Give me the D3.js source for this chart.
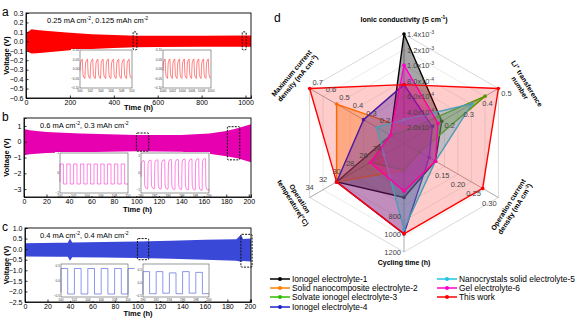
<!DOCTYPE html>
<html>
<head>
<meta charset="utf-8">
<script src="https://d3js.org/d3.v7.min.js"></script>
<style>
  body { margin: 0; background: #fff; }
  svg { font-family: "Liberation Sans", Arial, sans-serif; }
  .tick text { font-size: 7px; fill: #000; }
  .tick line, .domain { stroke: #000; stroke-width: 0.8; }
</style>
</head>
<body>
<svg width="586" height="329"></svg>
<script>
var svg = d3.select("svg");

// ---------- voltage profiles: envelope of the cycling band [time, top, bottom] ----------
var bandA = [[0, 0.07, -0.07], [8, 0.1, -0.11], [25, 0.127, -0.13], [50, 0.12, -0.125], [100, 0.11, -0.115],
  [200, 0.09, -0.095], [300, 0.075, -0.08], [400, 0.066, -0.07], [500, 0.06, -0.062], [600, 0.058, -0.06],
  [800, 0.058, -0.057], [1000, 0.062, -0.057], [1025, 0.062, -0.057]];
var bandB = [[0, 0.8, -0.85], [5, 0.72, -0.8], [20, 0.62, -0.72], [50, 0.52, -0.66], [100, 0.42, -0.6],
  [140, 0.42, -0.64], [165, 0.52, -0.76], [180, 0.68, -0.92], [190, 0.85, -1.05], [202, 1.1, -1.3]];
var bandC = [[0, 0.28, -0.35], [30, 0.3, -0.36], [38, 0.3, -0.36], [40, 0.5, -0.55], [42, 0.32, -0.38],
  [70, 0.34, -0.4], [100, 0.36, -0.42], [130, 0.4, -0.45], [160, 0.44, -0.5], [188, 0.47, -0.55],
  [192, 0.68, -0.6], [194, 0.48, -0.56], [201, 0.5, -0.58]];

// dashed zoom windows [t0, t1, vTop, vBottom]
var boxesA = [[488, 505, 0.1, -0.09], [985, 1003, 0.1, -0.09]];
var boxesB = [[100, 111, 0.55, -0.6], [181, 192, 0.95, -1.15]];
var boxesC = [[100, 110, 0.5, -0.5], [192, 202, 0.7, -0.85]];

// inset traces: voltage level of each half cycle
var insA1 = [0.052, -0.05, 0.052, -0.05, 0.053, -0.05, 0.052, -0.05, 0.052, -0.05, 0.053, -0.05, 0.052, -0.05, 0.052, -0.05, 0.052, -0.05, 0.052, -0.05];
var insA2 = [0.053, -0.05, 0.053, -0.05, 0.053, -0.05, 0.053, -0.05, 0.053, -0.05, 0.053, -0.05, 0.053, -0.05, 0.053, -0.05, 0.053, -0.05, 0.053, -0.05];
var insB1 = [0.45, -0.55, 0.45, -0.55, 0.45, -0.55, 0.45, -0.55, 0.45, -0.55, 0.45, -0.55, 0.45, -0.55, 0.45, -0.55, 0.45, -0.55, 0.45, -0.55];
var insB2 = [0.75, -0.95, 0.78, -0.95, 0.8, -0.97, 0.8, -0.98, 0.82, -1.0, 0.82, -1.0, 0.85, -1.02, 0.85, -1.03, 0.87, -1.05, 0.88, -1.05];
var insC1 = [0.4, -0.45, 0.4, -0.45, 0.4, -0.45, 0.4, -0.45, 0.4, -0.45, 0.4];
var insC2 = [0.45, -0.42, 0.45, -0.4, 0.4, -0.42, 0.45, -0.4, 0.42, -0.42];

// ---------- radar comparison ----------
var radarAxes = ["Ionic conductivity", "Li+ transference number", "Operation current density",
  "Cycling time", "Operation temperature", "Maximum current density"];
var radarDomains = [[0, 1.4e-3], [0, 0.5], [0, 0.3], [0, 1200], [20, 34], [0, 0.7]];
var seriesNames = ["Ionogel electrolyte-1", "Solid nanocomposite electrolyte-2", "Solvate ionogel electrolyte-3",
  "Ionogel electrolyte-4", "Nanocrystals solid electrolyte-5", "Gel electrolyte-6", "This work"];
var seriesColors = ["#000000", "#ff8000", "#33bb00", "#2020cc", "#22c4e0", "#ff00cc", "#ff0000"];
var seriesValues = [
  [1.4e-3, 0.2, 0.1, 600, 30, 0.1],
  [2.0e-4, 0.15, 0.05, 300, 30, 0.5],
  [1.5e-4, 0.43, 0.05, 300, 25, 0.1],
  [7.5e-4, 0.15, 0.08, 1000, 30, 0.3],
  [3.0e-4, 0.36, 0.1, 950, 23, 0.2],
  [1.0e-3, 0.18, 0.1, 530, 25, 0.1],
  [7.5e-4, 0.5, 0.25, 1000, 30, 0.7]
];
var ionicTicks = [[2, -4], [4, -4], [6, -4], [8, -4], [1, -3], [1.2, -3], [1.4, -3]];
var liTicks = [0.2, 0.3, 0.4, 0.5];
var opTicks = [0.15, 0.2, 0.25, 0.3];
var cycleTicks = [800, 1000, 1200];
var tempTicks = [24, 26, 28, 30, 32, 34];
var maxTicks = [0.2, 0.3, 0.4, 0.5, 0.6, 0.7];

// ---------- helpers ----------
// parts: [text, "sup"] pieces; shifts are in px so the baseline comes back exactly
function rich(sel, size, parts) {
  var up = 0;
  parts.forEach(function (p) {
    var t = sel.append("tspan").text(p[0]);
    if (p[1] === "sup") {
      t.attr("dy", -size * 0.38 - up).attr("font-size", size * 0.68);
      up = -size * 0.38;
    } else {
      t.attr("dy", -up).attr("font-size", size);
      up = 0;
    }
  });
  return sel;
}

function text(x, y, str, size, opts) {
  opts = opts || {};
  var t = svg.append("text").attr("x", x).attr("y", y)
    .attr("font-size", size)
    .attr("text-anchor", opts.anchor || "start")
    .attr("font-weight", opts.bold ? "bold" : "normal")
    .attr("fill", opts.fill || "#000");
  if (opts.rotate) t.attr("transform", "rotate(" + opts.rotate + "," + x + "," + y + ")");
  if (str !== null && str !== undefined) t.text(str);
  return t;
}

// waveform for an inset: each half cycle starts with a jump and then follows its shape
function wave(levels, t0, half, kind) {
  var pts = [];
  levels.forEach(function (v, i) {
    var a = t0 + i * half, b = a + half;
    var prev = i > 0 ? levels[i - 1] : -v;
    if (kind === "saw") {
      pts.push([a, prev * 0.2], [a + half * 0.15, v * 0.6], [a + half * 0.5, v * 0.9], [b - half * 0.1, v]);
    } else if (kind === "round") {
      pts.push([a, prev * 0.3], [a + half * 0.08, v * 0.75], [a + half * 0.3, v * 0.93], [b - half * 0.12, v], [b, v * 0.9]);
    } else {
      pts.push([a, prev], [a, v], [b, v]);
    }
  });
  return pts;
}

function drawInset(ins) {
  var g = svg.append("g");
  g.append("rect").attr("x", ins.outer[0]).attr("y", ins.outer[1])
    .attr("width", ins.outer[2] - ins.outer[0]).attr("height", ins.outer[3] - ins.outer[1])
    .attr("fill", "#fff");
  var x = d3.scaleLinear().domain(ins.xDomain).range([ins.inner[0], ins.inner[2]]);
  var y = d3.scaleLinear().domain(ins.yDomain).range([ins.inner[3], ins.inner[1]]);
  g.append("path").datum(ins.points)
    .attr("fill", "none").attr("stroke", ins.color).attr("stroke-width", 0.6)
    .attr("d", d3.line().x(function (d) { return x(d[0]); }).y(function (d) { return y(d[1]); }));
  g.append("rect").attr("x", ins.inner[0]).attr("y", ins.inner[1])
    .attr("width", ins.inner[2] - ins.inner[0]).attr("height", ins.inner[3] - ins.inner[1])
    .attr("fill", "none").attr("stroke", "#555").attr("stroke-width", 0.6);
  ins.xTicks.forEach(function (t) {
    g.append("text").attr("x", x(t)).attr("y", ins.inner[3] + 3.5).attr("font-size", 3.2)
      .attr("text-anchor", "middle").attr("fill", "#333").text(t);
  });
  ins.yTicks.forEach(function (t) {
    g.append("text").attr("x", ins.inner[0] - 1).attr("y", y(t) + 1).attr("font-size", 3.2)
      .attr("text-anchor", "end").attr("fill", "#333").text(ins.yFormat(t));
  });
}

function drawPanel(p) {
  var g = svg.append("g");
  var x = d3.scaleLinear().domain(p.xDomain).range([p.box[0], p.box[2]]);
  var y = d3.scaleLinear().domain(p.yDomain).range([p.box[3], p.box[1]]);
  g.append("path").datum(p.band).attr("fill", p.color)
    .attr("d", d3.area().x(function (d) { return x(d[0]); })
      .y0(function (d) { return y(d[2]); }).y1(function (d) { return y(d[1]); }));
  g.selectAll(".zbox").data(p.boxes).enter().append("rect")
    .attr("x", function (d) { return x(d[0]); }).attr("y", function (d) { return y(d[2]); })
    .attr("width", function (d) { return x(d[1]) - x(d[0]); })
    .attr("height", function (d) { return y(d[3]) - y(d[2]); })
    .attr("rx", 1).attr("fill", "none").attr("stroke", "#111")
    .attr("stroke-width", 1).attr("stroke-dasharray", "2,1.2");
  g.append("g").attr("transform", "translate(0," + p.box[3] + ")")
    .call(d3.axisBottom(x).tickValues(p.xTicks).tickSize(-2.5).tickPadding(2.5).tickFormat(d3.format("d")));
  g.append("g").attr("transform", "translate(" + p.box[0] + ",0)")
    .call(d3.axisLeft(y).tickValues(p.yTicks).tickSize(-2.5).tickPadding(2.5).tickFormat(p.yFormat));
  g.append("rect").attr("x", p.box[0]).attr("y", p.box[1])
    .attr("width", p.box[2] - p.box[0]).attr("height", p.box[3] - p.box[1])
    .attr("fill", "none").attr("stroke", "#000").attr("stroke-width", 0.9);
  p.insets.forEach(drawInset);
  rich(text(p.textX, p.box[1] + 10, null, 7.5), 7.5, p.note);
  text((p.box[0] + p.box[2]) / 2, p.titleY, "Time (h)", 7.5, { anchor: "middle", bold: true });
  text(9, (p.box[1] + p.box[3]) / 2, "Voltage (V)", 7.5, { anchor: "middle", bold: true, rotate: -90 });
  text(2, p.box[1] + 3, p.letter, 12);
}

var f1 = d3.format(".1f"), f2 = d3.format(".2f");

drawPanel({
  box: [26, 13, 251, 98], xDomain: [0, 1025], yDomain: [-0.6, 0.3], color: "#ff0000",
  band: bandA, boxes: boxesA, xTicks: [0, 200, 400, 600, 800, 1000],
  yTicks: d3.range(-6, 4).map(function (d) { return d / 10; }), yFormat: f1,
  note: [["0.25 mA cm"], ["-2", "sup"], [", 0.125 mAh cm"], ["-2", "sup"]],
  textX: 47, titleY: 110, letter: "a",
  insets: [
    { outer: [71, 49, 132, 92], inner: [80, 50, 132, 88], xDomain: [500, 510], yDomain: [-0.1, 0.1],
      xTicks: [500, 502, 504, 506, 508, 510], yTicks: [-0.1, -0.05, 0, 0.05, 0.1], yFormat: f2,
      color: "#ff3030", points: wave(insA1, 500, 0.5, "saw") },
    { outer: [156, 49, 212, 92], inner: [163, 50, 211, 88], xDomain: [1000, 1010], yDomain: [-0.1, 0.1],
      xTicks: [1000, 1002, 1004, 1006, 1008, 1010], yTicks: [-0.1, -0.05, 0, 0.05, 0.1], yFormat: f2,
      color: "#ff3030", points: wave(insA2, 1000, 0.5, "saw") }
  ]
});

drawPanel({
  box: [24, 118, 251, 197], xDomain: [0, 202], yDomain: [-3.5, 1.5], color: "#e600b0",
  band: bandB, boxes: boxesB, xTicks: d3.range(0, 201, 20),
  yTicks: [-3, -2, -1, 0, 1], yFormat: d3.format("d"),
  note: [["0.6 mA cm"], ["-2", "sup"], [", 0.3 mAh cm"], ["-2", "sup"]],
  textX: 40, titleY: 212, letter: "b",
  insets: [
    { outer: [55, 152, 128, 196], inner: [60, 153, 128, 193], xDomain: [100, 110], yDomain: [-1, 1],
      xTicks: [100, 102, 104, 106, 108, 110], yTicks: [-1, 0, 1], yFormat: d3.format("d"),
      color: "#ff30d0", points: wave(insB1, 100, 0.5, "square") },
    { outer: [136, 152, 210, 196], inner: [141, 153, 209, 193], xDomain: [180, 190], yDomain: [-1.2, 1.2],
      xTicks: [180, 182, 184, 186, 188, 190], yTicks: [-1, 0, 1], yFormat: d3.format("d"),
      color: "#ff30d0", points: wave(insB2, 180, 0.5, "round") }
  ]
});

drawPanel({
  box: [25, 228, 251, 302], xDomain: [0, 201], yDomain: [-2.5, 1.0], color: "#3a48d8",
  band: bandC, boxes: boxesC, xTicks: d3.range(0, 201, 20),
  yTicks: d3.range(-5, 3).map(function (d) { return d / 2; }), yFormat: f1,
  note: [["0.4 mA cm"], ["-2", "sup"], [", 0.4 mAh cm"], ["-2", "sup"]],
  textX: 40, titleY: 316, letter: "c",
  insets: [
    { outer: [55, 263, 129, 301], inner: [61, 264, 128, 297], xDomain: [100, 110], yDomain: [-0.55, 0.55],
      xTicks: [100, 102, 104, 106, 108, 110], yTicks: [-0.5, 0, 0.5], yFormat: f1,
      color: "#4050e0", points: wave(insC1, 100, 1, "square") },
    { outer: [137, 263, 210, 301], inner: [143, 264, 209, 297], xDomain: [190, 200], yDomain: [-0.55, 0.75],
      xTicks: [190, 192, 194, 196, 198, 200], yTicks: [-0.5, 0, 0.5], yFormat: f1,
      color: "#4050e0", points: wave(insC2, 190, 1, "square") }
  ]
});

// ---------- radar ----------
var cx = 404, cy = 143, R = 109;
var angles = [-90, -30, 30, 90, 150, 210].map(function (a) { return a * Math.PI / 180; });
var radial = radarDomains.map(function (d) { return d3.scaleLinear().domain(d).range([0, R]); });

function rp(i, v) {
  var r = radial[i](v);
  return [cx + r * Math.cos(angles[i]), cy + r * Math.sin(angles[i])];
}

var rg = svg.append("g");
// hexagonal grid rings and spokes
d3.range(1, 8).forEach(function (k) {
  var pts = angles.map(function (a) { return [cx + R * k / 7 * Math.cos(a), cy + R * k / 7 * Math.sin(a)]; });
  rg.append("polygon").attr("points", pts.join(" "))
    .attr("fill", "none").attr("stroke", k === 7 ? "#c8c8c8" : "#e2e2e2").attr("stroke-width", 0.7);
});
angles.forEach(function (a) {
  rg.append("line").attr("x1", cx).attr("y1", cy)
    .attr("x2", cx + R * Math.cos(a)).attr("y2", cy + R * Math.sin(a))
    .attr("stroke", "#888").attr("stroke-width", 0.7);
});

// series polygons, drawn in legend order
seriesValues.forEach(function (vals, s) {
  var pts = vals.map(function (v, i) { return rp(i, v); });
  var g = rg.append("g");
  g.append("polygon").attr("points", pts.join(" "))
    .attr("fill", seriesColors[s]).attr("fill-opacity", s === 6 ? 0.2 : 0.35)
    .attr("stroke", seriesColors[s]).attr("stroke-width", 1.4).attr("stroke-linejoin", "round");
  g.selectAll("circle").data(pts).enter().append("circle")
    .attr("cx", function (d) { return d[0]; }).attr("cy", function (d) { return d[1]; })
    .attr("r", 1.8).attr("fill", seriesColors[s]);
});

// tick labels on each spoke
var tickColor = "#444", ts = 7.5;
ionicTicks.forEach(function (t) {
  var p = rp(0, t[0] * Math.pow(10, t[1]));
  rich(text(p[0] + 3, p[1] + 3, null, ts, { fill: tickColor }), ts,
    [[d3.format(".1f")(t[0]) + "x10"], [String(t[1]), "sup"]]);
});
liTicks.forEach(function (t) {
  var p = rp(1, t);
  text(p[0] + 8, p[1] + 7, d3.format(".1f")(t), ts, { anchor: "middle", fill: tickColor });
});
opTicks.forEach(function (t) {
  var p = rp(2, t);
  text(p[0] - 9, p[1] + 8, d3.format(".2f")(t), ts, { anchor: "middle", fill: tickColor });
});
cycleTicks.forEach(function (t) {
  var p = rp(3, t);
  text(p[0] - 3, p[1] + 3, t, ts, { anchor: "end", fill: tickColor });
});
tempTicks.forEach(function (t) {
  var p = rp(4, t);
  text(p[0], p[1] - 8, t, ts, { anchor: "middle", fill: tickColor });
});
maxTicks.forEach(function (t) {
  var p = rp(5, t);
  text(p[0] + 8, p[1] - 4, d3.format(".1f")(t), ts, { anchor: "middle", fill: tickColor });
});

// axis titles
rich(text(cx, 22, null, 7, { anchor: "middle", bold: true }), 7,
  [["Ionic conductivity (S cm"], ["-1", "sup"], [")"]]);
text(cx, 265, "Cycling time (h)", 7, { anchor: "middle", bold: true });

function rotTitle(x, y, ang, line1, line2) {
  var g = svg.append("g").attr("transform", "translate(" + x + "," + y + ") rotate(" + ang + ")");
  [line1, line2].forEach(function (parts, k) {
    var t = g.append("text").attr("text-anchor", "middle").attr("font-size", 7)
      .attr("font-weight", "bold").attr("x", 0).attr("y", k === 0 ? -2 : 6);
    rich(t, 7, parts);
  });
}
rotTitle(295, 76, -50, [["Maximum current"]], [["density (mA cm"], ["-2", "sup"], [")"]]);
rotTitle(523, 86, 58, [["Li"], ["+", "sup"], [" transference"]], [["number"]]);
rotTitle(512, 207, -58, [["Operation current"]], [["density (mA cm"], ["-2", "sup"], [")"]]);
rotTitle(296, 201, 58, [["Operation"]], [["temperature(°C)"]]);

text(274, 22, "d", 12);

// legend
var legendPos = [[270, 279], [270, 288], [270, 297], [270, 307], [437, 279], [437, 288], [437, 297]];
seriesNames.forEach(function (name, i) {
  var p = legendPos[i];
  svg.append("line").attr("x1", p[0]).attr("x2", p[0] + 20).attr("y1", p[1]).attr("y2", p[1])
    .attr("stroke", seriesColors[i]).attr("stroke-width", 1.5);
  svg.append("circle").attr("cx", p[0] + 10).attr("cy", p[1]).attr("r", 2)
    .attr("fill", seriesColors[i]);
  text(p[0] + 22, p[1] + 3, name, 8.4);
});
</script>
</body>
</html>
